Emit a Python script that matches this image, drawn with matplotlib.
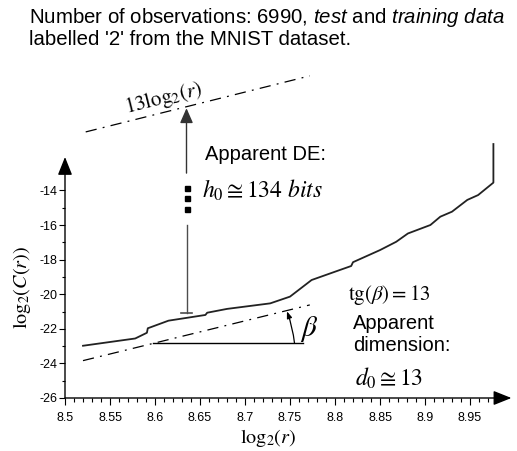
import numpy as np
import matplotlib
matplotlib.use("Agg")
import matplotlib.pyplot as plt

plt.rcParams['font.family'] = ['Liberation Sans', 'DejaVu Sans']
plt.rcParams['axes.unicode_minus'] = False
plt.rcParams['mathtext.fontset'] = 'custom'
plt.rcParams['mathtext.rm'] = 'Liberation Sans'
plt.rcParams['mathtext.it'] = 'Liberation Sans:italic'
plt.rcParams['mathtext.bf'] = 'Liberation Sans:bold'

# correlation integral curve
log_r = [8.520, 8.578, 8.591, 8.592, 8.615, 8.656, 8.658, 8.680, 8.728, 8.750,
         8.774, 8.800, 8.818, 8.820, 8.850, 8.868, 8.881, 8.906, 8.917, 8.930,
         8.947, 8.959, 8.976, 8.976]
log_C = [-22.98, -22.56, -22.23, -21.97, -21.53, -21.20, -21.07, -20.85, -20.53, -20.14,
         -19.18, -18.70, -18.37, -18.15, -17.45, -16.97, -16.49, -16.00, -15.52, -15.23,
         -14.55, -14.27, -13.55, -11.32]

# slope-13 reference lines (end points)
fit_x = [8.520, 8.772]
fit_y = [-23.84, -20.62]
top_x = [8.523, 8.772]
top_y = [-10.62, -7.38]
base_x = [8.598, 8.764]
base_y = [-22.83, -22.83]

xticks = np.arange(8.5, 8.951, 0.05)
yticks = np.arange(-26, -13, 2)

fig = plt.figure(figsize=(5.17, 4.51), dpi=100)
ax = fig.add_axes([65/517, 53/451, 450/517, 346/451])
ax.set_xlim(8.5, 9.0)
ax.set_ylim(-26, -6)

for s in ['top', 'right', 'left', 'bottom']:
    ax.spines[s].set_visible(False)

ax.set_xticks(xticks)
ax.set_xticklabels(['%g' % round(t, 2) for t in xticks])
ax.set_xticks(np.arange(8.5, 8.985, 0.01), minor=True)
ax.set_yticks(yticks)
ax.set_yticks(np.arange(-25, -14, 1), minor=True)
ax.tick_params(axis='x', which='major', length=5, width=0.8, pad=5, labelsize=9)
ax.tick_params(axis='x', which='minor', length=3, width=0.8)
ax.tick_params(axis='y', which='major', length=4.5, width=0.8, pad=1, labelsize=9)
ax.tick_params(axis='y', which='minor', length=2.5, width=0.8)

# axes with arrow heads
ax_arrow = dict(arrowstyle='-|>,head_length=0.55,head_width=0.22', color='black',
                lw=1, mutation_scale=20, shrinkA=0, shrinkB=0)
ax.annotate('', xy=(8.5, -12.07), xytext=(8.5, -26), arrowprops=ax_arrow)
ax.annotate('', xy=(8.996, -26), xytext=(8.5, -26), arrowprops=ax_arrow)

# data curve
ax.plot(log_r, log_C, color='#222222', lw=1.3)

# reference lines
ax.plot(fit_x, fit_y, color='black', lw=0.9, dashes=(9, 5, 1.5, 5))
ax.plot(top_x, top_y, color='black', lw=0.9, dashes=(9, 5, 1.5, 5))
ax.plot(base_x, base_y, color='black', lw=1.0)

# angle arc
ax.annotate('', xy=(8.7466, -20.99), xytext=(8.755, -22.83),
            arrowprops=dict(arrowstyle='-|>,head_length=0.4,head_width=0.15', color='black',
                            lw=0.9, mutation_scale=10, shrinkA=0, shrinkB=0,
                            connectionstyle='arc3,rad=0.06'))

# vertical arrow with break
vx = 8.635
ax.plot([vx, vx], [-21.09, -16.0], color='0.3', lw=1)
ax.plot([vx - 0.006, vx + 0.006], [-21.09, -21.09], color='0.3', lw=1.2)
ax.plot([vx, vx, vx], [-13.86, -14.44, -15.08], 's', color='black', ms=3.6)
ax.annotate('', xy=(vx, -9.25), xytext=(vx, -13.0),
            arrowprops=dict(arrowstyle='-|>,head_length=0.5,head_width=0.22', color='0.2',
                            lw=1, mutation_scale=18, shrinkA=0, shrinkB=0))

# labels
ax.text(8.609, -8.68, r'$\mathrm{13log}_2(r)$', fontsize=15, math_fontfamily='stix',
        rotation=14, ha='center', va='center', rotation_mode='anchor')
ax.text(8.6556, -11.95, 'Apparent DE:', fontsize=14.5, va='center', ha='left')
ax.text(8.652, -13.98, r'$h_0 \cong 134\ bits$', fontsize=17, math_fontfamily='stix',
        va='center', ha='left')
ax.text(8.8144, -20.05, r'$\mathrm{tg}(\beta) = 13$', fontsize=15, math_fontfamily='stix',
        va='center', ha='left')
ax.text(8.8197, -21.68, 'Apparent', fontsize=14.5, va='center', ha='left')
ax.text(8.8197, -22.94, 'dimension:', fontsize=14.5, va='center', ha='left')
ax.text(8.822, -24.86, r'$d_0 \cong 13$', fontsize=17, math_fontfamily='stix',
        va='center', ha='left')
ax.text(8.761, -22.0, r'$\beta$', fontsize=21, math_fontfamily='stix', va='center', ha='left')

ax.text(8.726, -28.31, r'$\mathrm{log}_2(r)$', fontsize=14.5, math_fontfamily='stix',
        ha='center', va='center')
ax.text(8.4522, -19.6, r'$\mathrm{log}_2(C(r))$', fontsize=14.5, math_fontfamily='stix',
        ha='center', va='center', rotation=90)

fig.text(29/517, 1 - 22.7/451,
         r'Number of observations: 6990, $\mathit{test}$ and $\mathit{training\ data}$',
         fontsize=14.7, ha='left', va='baseline')
fig.text(29/517, 1 - 45/451, "labelled '2' from the MNIST dataset.",
         fontsize=14.7, ha='left', va='baseline')

fig.savefig('out.png', dpi=100)
